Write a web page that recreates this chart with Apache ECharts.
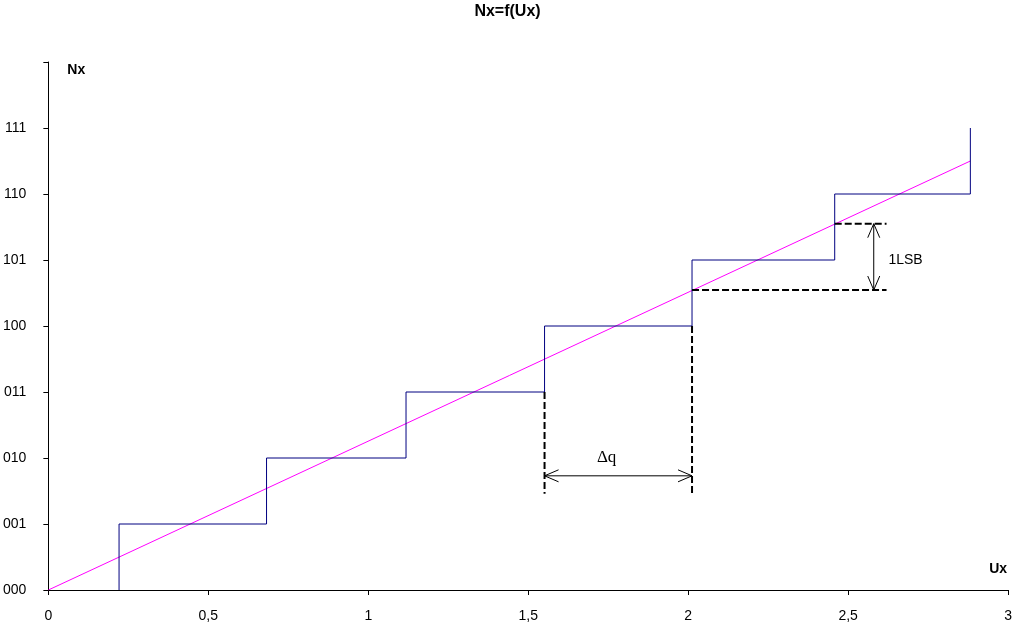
<!DOCTYPE html>
<html>
<head>
<meta charset="utf-8">
<script src="https://cdn.jsdelivr.net/npm/echarts@6/dist/echarts.min.js"></script>
<style>html,body{margin:0;padding:0;background:#fff}#c{width:1015px;height:625px}</style>
</head>
<body>
<div id="c"></div>
<script>
// ---- data ----
var yTickLabels = ['000','001','010','011','100','101','110','111',''];
var stepX = [0.221, 0.682, 1.118, 1.551, 2.012, 2.458, 2.882]; // Ux where code increments
var stepLevels = [1, 2, 3, 4, 5, 6, 7];                        // code after each step
var idealLine = [[0, 0], [2.882, 6.5]];                        // ideal transfer line
// annotation geometry (data units)
var dqLeft = [[1.551, 3], [1.551, 1.46]];
var dqRight = [[2.012, 4], [2.012, 1.43]];
var dqArrow = [[1.551, 1.73], [2.012, 1.73]];
var dqLabel = [1.745, 2.0];
var lsbUpper = [[2.458, 5.55], [2.62, 5.55]];
var lsbLower = [[2.012, 4.545], [2.62, 4.545]];
var lsbArrow = [[2.58, 5.55], [2.58, 4.545]];
var lsbLabel = [2.626, 5.0];

// build staircase vertices
var stair = [[stepX[0], 0]];
for (var i = 0; i < stepX.length; i++) {
  stair.push([stepX[i], stepLevels[i]]);
  if (i + 1 < stepX.length) stair.push([stepX[i + 1], stepLevels[i]]);
}

var chart = echarts.init(document.getElementById('c'));
var FONT = 'Liberation Sans';
var NARROW = '"Liberation Sans Narrow", "Liberation Sans", sans-serif';

function dashed(data) {
  return {type: 'line', data: data, symbol: 'none', silent: true,
    lineStyle: {color: '#000', width: 2, type: [7, 3]}, z: 4};
}
function arrow(data) {
  return {
    type: 'custom', data: [0], silent: true, z: 5,
    renderItem: function (params, api) {
      var a = api.coord(data[0]), b = api.coord(data[1]);
      var dx = b[0] - a[0], dy = b[1] - a[1];
      var L = Math.sqrt(dx * dx + dy * dy); dx /= L; dy /= L;
      var hl = 14, hw = 6;
      function head(p, sx, sy) {
        return {type: 'polyline', shape: {points: [
          [p[0] + sx * hl - sy * hw, p[1] + sy * hl + sx * hw],
          [p[0], p[1]],
          [p[0] + sx * hl + sy * hw, p[1] + sy * hl - sx * hw]]},
          style: {stroke: '#000', lineWidth: 1, fill: null}};
      }
      return {type: 'group', children: [
        {type: 'line', shape: {x1: a[0], y1: a[1], x2: b[0], y2: b[1]}, style: {stroke: '#000', lineWidth: 1}},
        head(a, dx, dy), head(b, -dx, -dy)
      ]};
    }
  };
}
function label(pos, text, font, size, align) {
  return {
    type: 'custom', data: [0], silent: true, z: 6,
    renderItem: function (params, api) {
      var p = api.coord(pos);
      return {type: 'text', x: p[0], y: p[1], style: {text: text, fontFamily: font, fontSize: size,
        fill: '#000', align: align, verticalAlign: 'middle'}};
    }
  };
}

chart.setOption({
  animation: false,
  backgroundColor: '#fff',
  title: {text: 'Nx=f(Ux)', left: 'center', top: -1,
    textStyle: {fontFamily: NARROW, fontWeight: 'bold', fontSize: 16, color: '#000'}},
  grid: {left: 47, right: 5, top: 62, bottom: 35, containLabel: false},
  xAxis: {
    type: 'value', min: 0, max: 3, interval: 0.5,
    name: 'Ux', nameLocation: 'end', nameGap: 0,
    nameTextStyle: {fontFamily: NARROW, fontWeight: 'bold', fontSize: 14, color: '#000',
      align: 'right', verticalAlign: 'bottom', padding: [0, 1, 14, 0]},
    axisLine: {onZero: false, lineStyle: {color: '#000', width: 1}},
    axisTick: {show: true, length: 5, lineStyle: {color: '#000'}},
    axisLabel: {margin: 19, fontFamily: NARROW, fontSize: 14, color: '#000',
      formatter: function (v) { return String(v).replace('.', ','); }},
    splitLine: {show: false}
  },
  yAxis: {
    type: 'value', min: 0, max: 8, interval: 1,
    name: 'Nx', nameLocation: 'end', nameGap: 0,
    nameTextStyle: {fontFamily: NARROW, fontWeight: 'bold', fontSize: 14, color: '#000',
      align: 'left', verticalAlign: 'top', padding: [1, 0, 0, 19]},
    axisLine: {show: true, lineStyle: {color: '#000', width: 1}},
    axisTick: {show: true, length: 5, lineStyle: {color: '#000'}},
    axisLabel: {margin: 22, fontFamily: NARROW, fontSize: 14, color: '#000',
      formatter: function (v) { return yTickLabels[Math.round(v)]; }},
    splitLine: {show: false}
  },
  series: [
    {type: 'line', data: idealLine, symbol: 'none', silent: true,
      lineStyle: {color: '#FF00FF', width: 1}, z: 2},
    {type: 'line', data: stair, symbol: 'none', silent: true,
      lineStyle: {color: '#000080', width: 1}, z: 3},
    dashed(dqLeft), dashed(dqRight), dashed(lsbUpper), dashed(lsbLower),
    arrow(dqArrow), arrow(lsbArrow),
    label(dqLabel, 'Δq', '"Liberation Serif", serif', 17, 'center'),
    label(lsbLabel, '1LSB', FONT, 14, 'left')
  ]
});
</script>
</body>
</html>
